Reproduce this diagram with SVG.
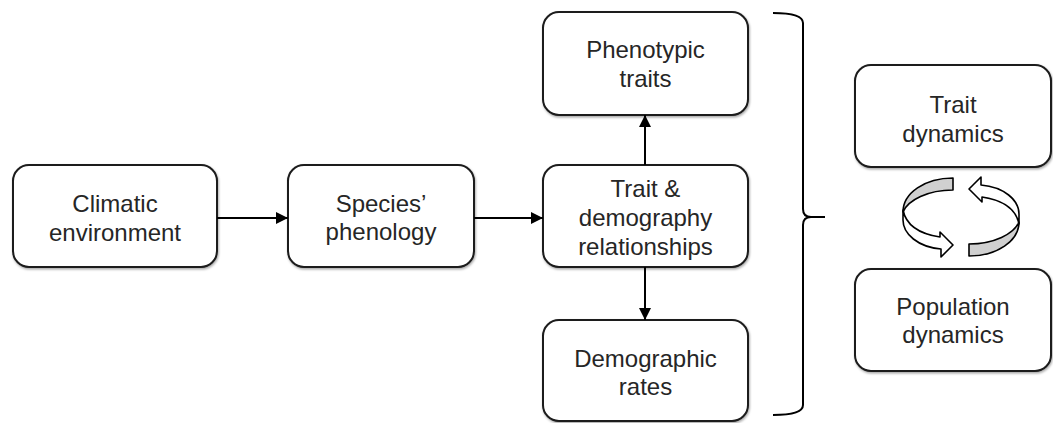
<svg xmlns="http://www.w3.org/2000/svg" width="1053" height="423" viewBox="0 0 1053 423">
<defs>
<filter id="sh" x="-5%" y="-5%" width="110%" height="115%">
<feDropShadow dx="0.8" dy="1.5" stdDeviation="1" flood-color="#000" flood-opacity="0.35"/>
</filter>
<marker id="ah" markerUnits="userSpaceOnUse" markerWidth="12" markerHeight="12" refX="12" refY="6" orient="auto">
<path d="M0,0 L12,6 L0,12 Z" fill="#000"/>
</marker>
</defs>
<style>
.box{fill:#fff;stroke:#1a1a1a;stroke-width:2;filter:url(#sh)}
.t{font-family:"Liberation Sans",Arial,sans-serif;font-size:24px;fill:#262626;text-anchor:middle}
.c{stroke:#000;stroke-width:2;fill:none}
.cyc{stroke:#000;stroke-width:1.6;stroke-linejoin:round}
</style>
<g id="climatic">
<rect class="box" x="13" y="165" width="204" height="102" rx="16"/>
<text class="t" x="115" y="212">Climatic</text>
<text class="t" x="115" y="241">environment</text>
</g>
<g id="phenology">
<rect class="box" x="288" y="165" width="186" height="102" rx="16"/>
<text class="t" x="381" y="212">Species’</text>
<text class="t" x="381" y="240">phenology</text>
</g>
<g id="phenotypic">
<rect class="box" x="543" y="12" width="205" height="103" rx="16"/>
<text class="t" x="645.5" y="58">Phenotypic</text>
<text class="t" x="645.5" y="87">traits</text>
</g>
<g id="relationships">
<rect class="box" x="543" y="165" width="205" height="102" rx="16"/>
<text class="t" x="645.5" y="197">Trait &amp;</text>
<text class="t" x="645.5" y="226">demography</text>
<text class="t" x="645.5" y="255">relationships</text>
</g>
<g id="demographic">
<rect class="box" x="543" y="320" width="205" height="101" rx="16"/>
<text class="t" x="645.5" y="367">Demographic</text>
<text class="t" x="645.5" y="395">rates</text>
</g>
<g id="traitdyn">
<rect class="box" x="855" y="65" width="196" height="102" rx="16"/>
<text class="t" x="953" y="113">Trait</text>
<text class="t" x="953" y="142">dynamics</text>
</g>
<g id="popdyn">
<rect class="box" x="855" y="269" width="196" height="102" rx="16"/>
<text class="t" x="953" y="315">Population</text>
<text class="t" x="953" y="343">dynamics</text>
</g>
<g id="connectors">
<line class="c" x1="217" y1="218" x2="288" y2="218" marker-end="url(#ah)"/>
<line class="c" x1="474" y1="218" x2="543" y2="218" marker-end="url(#ah)"/>
<line class="c" x1="645" y1="165" x2="645" y2="115" marker-end="url(#ah)"/>
<line class="c" x1="645" y1="267" x2="645" y2="320" marker-end="url(#ah)"/>
<path class="c" d="M773,13 Q803,13 803,23 L803,209 Q803,217 811,217 Q803,217 803,225 L803,405 Q803,415 773,415"/>
<line class="c" x1="810" y1="217" x2="825" y2="217"/>
</g>
<g id="cycle">
<g id="cycleLeft">
<path class="cyc" fill="#d0d0d0" d="M953,178 C925,178 903,193 903,212 C908,200 928,190 953,190 Z"/>
<path class="cyc" fill="#fff" d="M903,210 C906,225 920,234 940,237 L940,232 L953,245 L941,257 L941,249 C918,247 903,234 903,220 Z"/>
</g>
<g transform="rotate(180 961 217)">
<path class="cyc" fill="#d0d0d0" d="M953,178 C925,178 903,193 903,212 C908,200 928,190 953,190 Z"/>
<path class="cyc" fill="#fff" d="M903,210 C906,225 920,234 940,237 L940,232 L953,245 L941,257 L941,249 C918,247 903,234 903,220 Z"/>
</g>
</g>
</svg>
